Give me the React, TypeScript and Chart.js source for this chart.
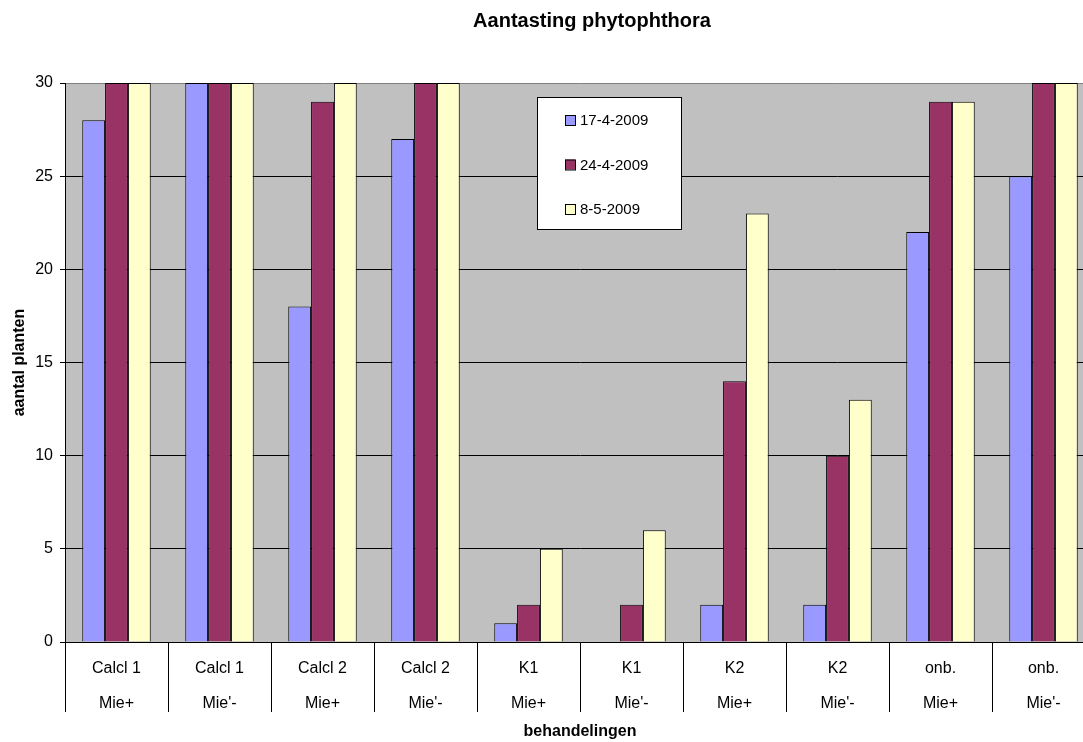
import React, { useEffect, useRef } from "react";
import { Chart, registerables } from "chart.js";

Chart.register(...registerables);

const categories: string[][] = [
  ["Calcl 1", "Mie+"],
  ["Calcl 1", "Mie'-"],
  ["Calcl 2", "Mie+"],
  ["Calcl 2", "Mie'-"],
  ["K1", "Mie+"],
  ["K1", "Mie'-"],
  ["K2", "Mie+"],
  ["K2", "Mie'-"],
  ["onb.", "Mie+"],
  ["onb.", "Mie'-"],
];
const seriesNames = ["17-4-2009", "24-4-2009", "8-5-2009"];
const s1 = [28, 30, 18, 27, 1, 0, 2, 2, 22, 25];
const s2 = [30, 30, 29, 30, 2, 2, 14, 10, 29, 30];
const s3 = [30, 30, 30, 30, 5, 6, 23, 13, 29, 30];
const colors = ["#9999FF", "#993366", "#FFFFCC"];
const yTicks = [0, 5, 10, 15, 20, 25, 30];

const FONT = "'Liberation Sans', Arial, sans-serif";

const bgPlugin = {
  id: "plotBg",
  beforeDraw(chart: any) {
    const { ctx, chartArea } = chart;
    ctx.save();
    ctx.fillStyle = "#C0C0C0";
    ctx.fillRect(chartArea.left, chartArea.top, chartArea.right - chartArea.left, chartArea.bottom - chartArea.top);
    ctx.restore();
  },
};

const legendPlugin = {
  id: "boxLegend",
  afterDraw(chart: any) {
    const { ctx, chartArea } = chart;
    const x = chartArea.left + 472;
    const y = chartArea.top + 14;
    const w = 144;
    const h = 132;
    ctx.save();
    ctx.fillStyle = "#FFFFFF";
    ctx.fillRect(x, y, w, h);
    ctx.strokeStyle = "#000000";
    ctx.lineWidth = 1;
    ctx.strokeRect(x + 0.5, y + 0.5, w, h);
    ctx.font = `15px ${FONT}`;
    ctx.textBaseline = "middle";
    chart.data.datasets.forEach((ds: any, i: number) => {
      const cy = y + 23 + i * 44.5;
      ctx.fillStyle = ds.backgroundColor;
      ctx.fillRect(x + 28, cy - 5, 10, 10);
      ctx.strokeStyle = "#000";
      ctx.strokeRect(x + 28.5, cy - 4.5, 10, 10);
      ctx.fillStyle = "#000";
      ctx.textAlign = "left";
      ctx.fillText(ds.label, x + 43, cy + 1);
    });
    ctx.restore();
  },
};

export default function App() {
  const ref = useRef<HTMLCanvasElement | null>(null);
  useEffect(() => {
    if (!ref.current) return;
    const data = [s1, s2, s3];
    const chart = new Chart(ref.current, {
      type: "bar",
      data: {
        labels: categories,
        datasets: seriesNames.map((name, i) => ({
          label: name,
          data: data[i],
          backgroundColor: colors[i],
          borderColor: "#000000",
          borderWidth: 1,
          barPercentage: 1,
          categoryPercentage: 0.665,
        })),
      },
      options: {
        responsive: false,
        animation: false,
        layout: { padding: 0 },
        plugins: {
          legend: { display: false },
          tooltip: { enabled: false },
          title: {
            display: true,
            text: "Aantasting phytophthora",
            color: "#000",
            font: { family: FONT, size: 20, weight: "bold" },
            padding: { top: 9, bottom: 50 },
          },
        },
        scales: {
          x: {
            offset: true,
            grid: {
              offset: true,
              drawOnChartArea: false,
              drawTicks: true,
              tickLength: 70,
              color: "#000000",
            },
            border: { color: "#000000", width: 1 },
            ticks: {
              color: "#000",
              font: { family: FONT, size: 16, lineHeight: 2.19 },
              padding: -61,
              maxRotation: 0,
              autoSkip: false,
            },
            title: {
              display: true,
              text: "behandelingen",
              color: "#000",
              font: { family: FONT, size: 16, weight: "bold" },
              padding: { top: 0, bottom: 1 },
            },
            afterFit: (s: any) => {
              s.height = 100;
            },
          },
          y: {
            min: 0,
            max: 30,
            afterBuildTicks: (s: any) => {
              s.ticks = yTicks.map((v) => ({ value: v }));
            },
            grid: {
              color: (c: any) => (c.tick && c.tick.value === 30 ? "#808080" : "#000000"),
              tickLength: 5,
              tickColor: "#000000",
            },
            border: { color: "#000000", width: 1 },
            ticks: {
              color: "#000",
              font: { family: FONT, size: 16 },
              padding: 7,
            },
            title: {
              display: true,
              text: "aantal planten",
              color: "#000",
              font: { family: FONT, size: 16, weight: "bold" },
              padding: { top: 10, bottom: 0 },
            },
            afterFit: (s: any) => {
              s.width = 65;
            },
          },
          spacer: {
            type: "linear",
            position: "right",
            display: true,
            min: 0,
            max: 30,
            grid: { display: false, drawOnChartArea: false },
            border: { display: false },
            ticks: { display: false },
            afterFit: (s: any) => {
              s.width = 89;
            },
          },
        },
      },
      plugins: [bgPlugin, legendPlugin],
    });
    return () => chart.destroy();
  }, []);
  return (
    <div style={{ position: "fixed", left: 0, top: 0, width: 1083, height: 742, overflow: "hidden", background: "#fff" }}>
      <canvas ref={ref} width={1184} height={742} style={{ display: "block" }} />
    </div>
  );
}
